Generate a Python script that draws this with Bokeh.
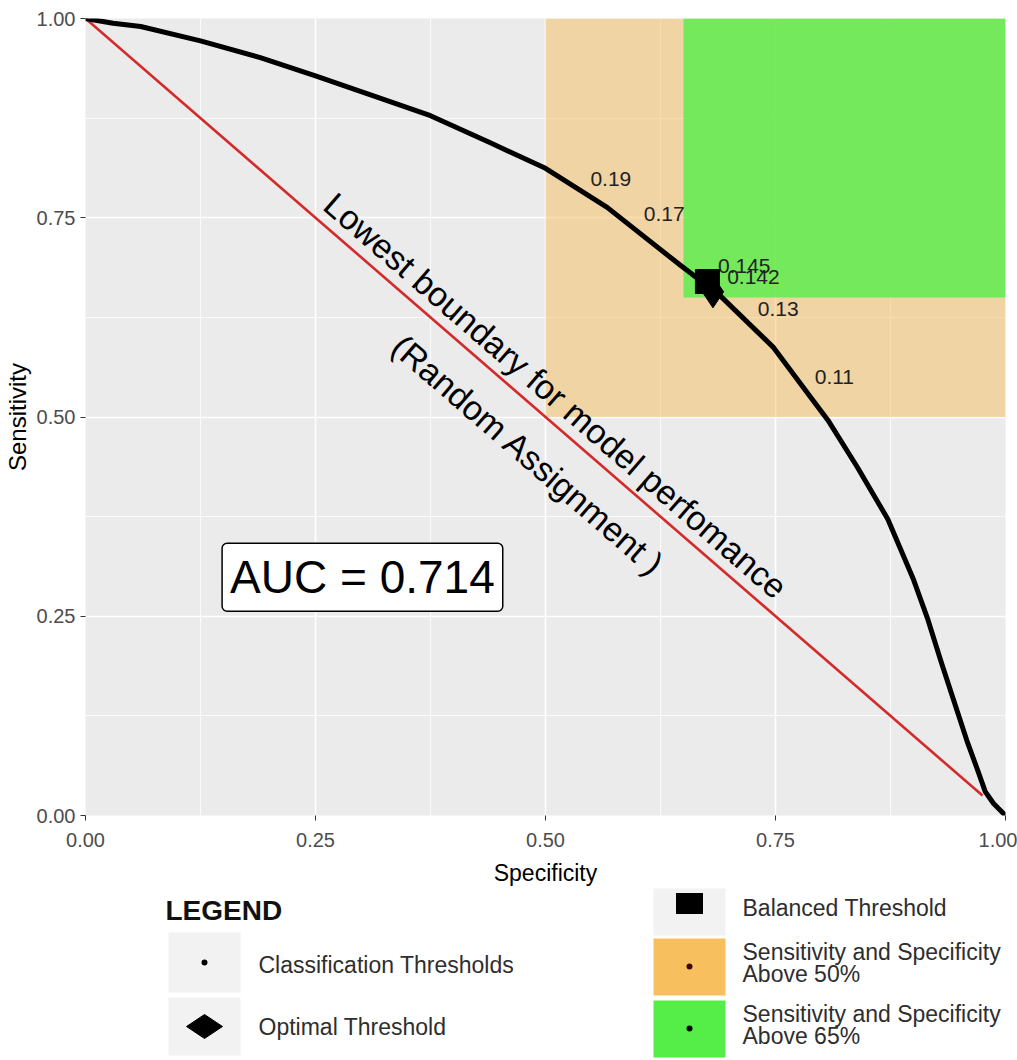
import math
from bokeh.plotting import figure
from bokeh.models import Range1d, FixedTicker, PrintfTickFormatter, Label
from bokeh.layouts import column
from bokeh.core.properties import value
from bokeh.embed import file_html
from bokeh.resources import INLINE

# ---------------- data ----------------
specificity = [0.00, 0.03, 0.06, 0.125, 0.19, 0.25, 0.313, 0.375, 0.44, 0.50, 0.567,
               0.647, 0.69, 0.748, 0.788, 0.807, 0.839, 0.872, 0.886, 0.90, 0.915,
               0.93, 0.945, 0.958, 0.97, 0.978, 0.987, 1.0]
sensitivity = [1.00, 0.994, 0.990, 0.972, 0.951, 0.928, 0.903, 0.878, 0.844, 0.812, 0.763,
               0.690, 0.652, 0.587, 0.525, 0.496, 0.437, 0.372, 0.334, 0.296, 0.248,
               0.193, 0.140, 0.094, 0.056, 0.030, 0.015, 0.0]

random_x = [0.0, 0.975]
random_y = [1.0, 0.025]

region_left = [0.50, 0.65]
region_right = [1.0, 1.0]
region_bottom = [0.50, 0.65]
region_top = [1.0, 1.0]
region_colors = ["#F5BE5E", "#55EE48"]
region_alpha = [0.5, 0.8]

thr_labels = ["0.19", "0.17", "0.145", "0.142", "0.13", "0.11"]
thr_label_x = [0.571, 0.629, 0.716, 0.726, 0.753, 0.814]
thr_label_y = [0.798, 0.755, 0.690, 0.676, 0.636, 0.550]

balanced_x = [0.676]
balanced_y = [0.670]
optimal_x = [0.682]
optimal_y = [0.657]

boundary_text = ["Lowest boundary for model perfomance", "(Random Assignment )"]
boundary_x = [0.511, 0.4815]
boundary_y = [0.527, 0.452]

auc_text = "AUC = 0.714"
auc_x, auc_y = 0.301, 0.299

ticks = [0.0, 0.25, 0.5, 0.75, 1.0]
minor = [0.125, 0.375, 0.625, 0.875]

FONT = "Liberation Sans"

# ---------------- main plot ----------------
p = figure(width=1017, height=888, x_range=Range1d(0, 1), y_range=Range1d(0, 1),
           output_backend="svg", toolbar_location=None,
           min_border_left=85, min_border_right=12, min_border_top=18, min_border_bottom=73)
p.background_fill_color = "#EBEBEB"
p.border_fill_color = "white"
p.outline_line_color = None

for ax in (p.xaxis[0], p.yaxis[0]):
    ax.ticker = FixedTicker(ticks=ticks, minor_ticks=minor)
    ax.formatter = PrintfTickFormatter(format="%.2f")
    ax.axis_line_color = None
    ax.major_tick_line_color = "#333333"
    ax.major_tick_out = 5
    ax.major_tick_in = 0
    ax.minor_tick_line_color = None
    ax.major_label_text_font = FONT
    ax.major_label_text_font_size = "20px"
    ax.major_label_text_color = "#4D4D4D"
    ax.axis_label_text_font = FONT
    ax.axis_label_text_font_style = "normal"
    ax.axis_label_text_color = "black"

p.xaxis.major_label_standoff = 12
p.yaxis.major_label_standoff = 5
p.xaxis.axis_label = "Specificity"
p.xaxis.axis_label_text_font_size = "23px"
p.xaxis.axis_label_standoff = 10
p.yaxis.axis_label = "Sensitivity"
p.yaxis.axis_label_text_font_size = "24px"
p.yaxis.axis_label_standoff = 3

for g in (p.xgrid[0], p.ygrid[0]):
    g.grid_line_color = "white"
    g.grid_line_width = 1.6
    g.minor_grid_line_color = "white"
    g.minor_grid_line_width = 0.8

p.quad(left=region_left, right=region_right, bottom=region_bottom, top=region_top,
       fill_color=region_colors, fill_alpha=region_alpha, line_color=None)

p.line(random_x, random_y, line_color="#D42A2A", line_width=2.6)
p.line(specificity, sensitivity, line_color="black", line_width=5, line_join="round")

p.text(x=thr_label_x, y=thr_label_y, text=thr_labels, text_font=value(FONT),
       text_font_size="21px", text_align="center", text_baseline="middle",
       text_color="#222222")

p.scatter(balanced_x, balanced_y, marker="square", size=24, fill_color="black", line_color="black")
p.scatter(optimal_x, optimal_y, marker="diamond", size=32, fill_color="black", line_color="black")

angle = -math.atan2(797, 920)
p.text(x=boundary_x, y=boundary_y, text=boundary_text, angle=angle,
       text_font=value(FONT), text_font_size="34px", text_align="center",
       text_baseline="middle", text_color="black")

p.add_layout(Label(x=auc_x, y=auc_y, text=auc_text, text_font=FONT,
                   text_font_size="46px", text_align="center", text_baseline="middle",
                   text_color="black", background_fill_color="white",
                   border_line_color="black", border_line_width=1.5,
                   padding=8, border_radius=5))

# ---------------- legend (page pixel layout, frame aligned with main plot) ----------------
lf = figure(width=1017, height=172, x_range=Range1d(85, 1005), y_range=Range1d(1060, 888),
            output_backend="svg", toolbar_location=None, x_axis_type=None, y_axis_type=None,
            min_border_left=85, min_border_right=12, min_border_top=0, min_border_bottom=0)
lf.outline_line_color = None
lf.background_fill_color = "white"
lf.border_fill_color = "white"
lf.xgrid.visible = False
lf.ygrid.visible = False

key_l = [168, 168, 653, 653, 653]
key_r = [240, 240, 725, 725, 725]
key_t = [932, 997, 880, 938, 1000]
key_b = [992, 1055, 935, 995, 1057]
key_c = ["#F2F2F2", "#F2F2F2", "#F2F2F2", "#F7BF5E", "#55EE48"]
lf.quad(left=key_l, right=key_r, top=key_t, bottom=key_b, fill_color=key_c, line_color=None)

lf.scatter([204], [962], marker="circle", size=6, fill_color="black", line_color=None)
lf.scatter([204], [1026], marker="diamond", size=36, angle=math.pi / 2,
           fill_color="black", line_color="black")
lf.rect([689], [903], width=27, height=21, fill_color="black", line_color=None)
lf.scatter([689], [966], marker="circle", size=6, fill_color="#3a0808", line_color=None)
lf.scatter([689], [1028], marker="circle", size=6, fill_color="black", line_color=None)

lf.text(x=[165], y=[910], text=["LEGEND"], text_font=value(FONT), text_font_size="28px",
        text_font_style="bold", text_align="left", text_baseline="middle", text_color="#111111")

leg_text = ["Classification Thresholds", "Optimal Threshold", "Balanced Threshold",
            "Sensitivity and Specificity", "Above 50%",
            "Sensitivity and Specificity", "Above 65%"]
leg_x = [258, 258, 742, 742, 742, 742, 742]
leg_y = [964, 1026, 907, 951, 973, 1013, 1035]
lf.text(x=leg_x, y=leg_y, text=leg_text, text_font=value(FONT), text_font_size="23px",
        text_align="left", text_baseline="middle", text_color="#2E2E2E")

layout = column(p, lf, spacing=0)
open("out.html", "w").write(file_html(layout, INLINE))
